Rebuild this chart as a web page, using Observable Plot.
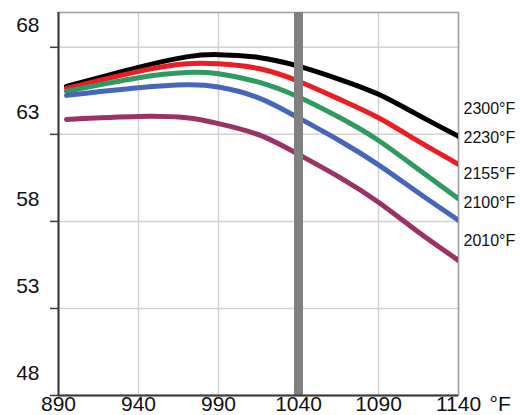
<!DOCTYPE html>
<html>
<head>
<meta charset="utf-8">
<script src="https://cdn.jsdelivr.net/npm/d3@7"></script>
<script src="https://cdn.jsdelivr.net/npm/@observablehq/plot@0.6"></script>
<style>
  html, body { margin: 0; padding: 0; background: white; }
</style>
</head>
<body>
<div id="chart"></div>
<script>
// Temperature (°F) on x axis
const temps = [895, 940, 970, 990, 1015, 1040, 1066, 1090, 1114, 1140];
// Series values
const s2300 = [65.76, 66.85, 67.45, 67.58, 67.42, 66.92, 66.15, 65.30, 64.15, 62.89];
const s2230 = [65.64, 66.62, 67.05, 67.05, 66.78, 66.05, 65.00, 63.95, 62.65, 61.28];
const s2155 = [65.47, 66.25, 66.55, 66.48, 66.00, 65.15, 63.95, 62.65, 61.05, 59.30];
const s2100 = [65.24, 65.68, 65.85, 65.72, 65.10, 63.95, 62.62, 61.25, 59.70, 58.06];
const s2010 = [63.86, 64.03, 63.95, 63.62, 62.98, 61.85, 60.52, 59.10, 57.45, 55.76];
const seriesNames = ["2300°F", "2230°F", "2155°F", "2100°F", "2010°F"];
const seriesValues = [s2300, s2230, s2155, s2100, s2010];
// Tick labels
const xTicks = [890, 940, 990, 1040, 1090, 1140];
const yTicks = [48, 53, 58, 63, 68];
const markerX = [1040];
const xUnit = "°F";

// styles
const colors = ["#000000", "#ED1C24", "#2E9A62", "#4766B9", "#993366"];
const labelDy = [-27, -26, -25, -17, -20];

const data = seriesNames.flatMap((s, i) => temps.map((t, j) => ({s, t, v: seriesValues[i][j]})));

const labelMarks = seriesNames.map((s, i) =>
  Plot.text([{s, t: temps[temps.length - 1], v: seriesValues[i][temps.length - 1]}], {
    x: "t", y: "v", text: "s", dx: 5, dy: labelDy[i], textAnchor: "start",
    fontSize: 16, fill: "#111"
  })
);

const chart = Plot.plot({
  width: 520,
  height: 415,
  marginLeft: 58,
  marginRight: 62,
  marginTop: 12,
  marginBottom: 20,
  style: {fontFamily: "'Liberation Sans', Arial, sans-serif", color: "#111", background: "white", overflow: "visible"},
  x: {domain: [890, 1140]},
  y: {domain: [48, 70]},
  color: {domain: seriesNames, range: colors},
  marks: [
    Plot.gridX(xTicks, {stroke: "#d2d2d2", strokeOpacity: 1, strokeWidth: 1.5}),
    Plot.gridY(yTicks, {stroke: "#d2d2d2", strokeOpacity: 1, strokeWidth: 1.5}),
    Plot.frame({stroke: "#a0a0a0", strokeWidth: 1.5}),
    Plot.line(data, {x: "t", y: "v", z: "s", stroke: "s", strokeWidth: 5, curve: "natural", strokeLinecap: "round", clip: true}),
    Plot.ruleX(markerX, {stroke: "#808080", strokeWidth: 9}),
    Plot.ruleX([890], {stroke: "#3a3a3a", strokeWidth: 2}),
    Plot.ruleY([48], {stroke: "#3a3a3a", strokeWidth: 2}),
    Plot.axisY(yTicks, {tickSize: 8, stroke: "#3a3a3a", strokeWidth: 1.5, tickFormat: () => "", label: null}),
    Plot.axisY(yTicks, {tickSize: 0, tickPadding: 19, dy: -22.5, fontSize: 21, tickFormat: d => String(d), label: null}),
    Plot.axisX(xTicks, {tickSize: 0, tickPadding: 1, fontSize: 21, tickFormat: d => String(d), label: null}),
    Plot.text([xUnit], {frameAnchor: "bottom-right", textAnchor: "start", lineAnchor: "top", dx: 31, dy: 1, fontSize: 21, fill: "#111"}),
    ...labelMarks
  ]
});
document.getElementById("chart").appendChild(chart);
</script>
</body>
</html>
